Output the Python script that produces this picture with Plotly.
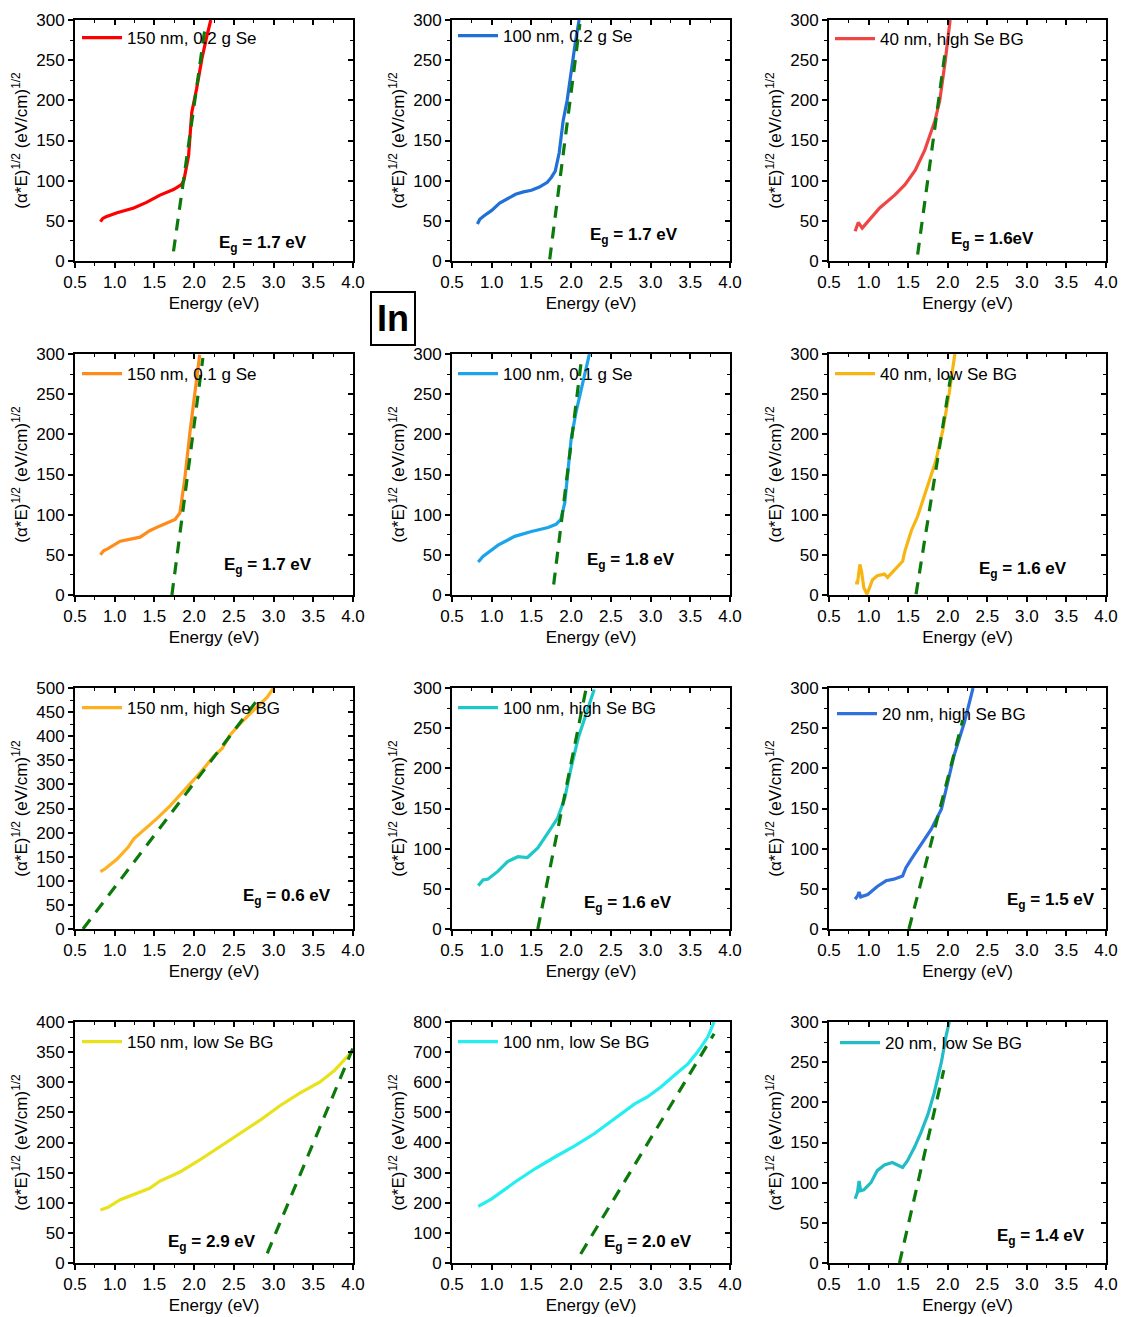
import plotly.graph_objects as go

# ---------------- data ----------------
labels = ["150 nm, 0.2 g Se", "100 nm, 0.2 g Se", "40 nm, high Se BG",
          "150 nm, 0.1 g Se", "100 nm, 0.1 g Se", "40 nm, low Se BG",
          "150 nm, high Se BG", "100 nm, high Se BG", "20 nm, high Se BG",
          "150 nm, low Se BG", "100 nm, low Se BG", "20 nm, low Se BG"]
eg_labels = ["1.7 eV", "1.7 eV", "1.6eV",
             "1.7 eV", "1.8 eV", "1.6 eV",
             "0.6 eV", "1.6 eV", "1.5 eV",
             "2.9 eV", "2.0 eV", "1.4 eV"]
colors = ["#ff0000", "#2070d8", "#f04545",
          "#ff8c1a", "#1ca4ea", "#f7b512",
          "#ffb020", "#1ec8c8", "#2f70dc",
          "#e8e21a", "#24eef0", "#22bcc6"]
y_max = [300, 300, 300, 300, 300, 300, 500, 300, 300, 400, 800, 300]
y_dtick = [50, 50, 50, 50, 50, 50, 50, 50, 50, 50, 100, 50]

e1 = [0.82, 0.85, 0.89, 1.03, 1.24, 1.40, 1.57, 1.74, 1.84, 1.87, 1.93, 1.97, 2.03, 2.10, 2.16, 2.21]
v1 = [49, 53, 55, 60, 66, 73, 82, 89, 95, 100, 131, 185, 214, 253, 280, 300]

e2 = [0.82, 0.85, 0.90, 1.00, 1.10, 1.20, 1.30, 1.40, 1.50, 1.60, 1.70, 1.75, 1.80, 1.85, 1.90, 1.95, 2.00, 2.05, 2.10]
v2 = [46, 52, 56, 63, 72, 78, 83, 86, 88, 92, 98, 104, 112, 135, 175, 200, 238, 270, 300]

e3 = [0.83, 0.87, 0.92, 1.02, 1.14, 1.33, 1.46, 1.59, 1.71, 1.84, 1.90, 1.97, 2.03]
v3 = [37, 48, 41, 53, 66, 82, 95, 113, 138, 175, 200, 250, 300]

e4 = [0.82, 0.86, 0.92, 1.07, 1.32, 1.44, 1.57, 1.76, 1.82, 1.88, 1.95, 2.01, 2.07]
v4 = [50, 55, 58, 67, 72, 80, 86, 94, 102, 143, 205, 255, 299]

e5 = [0.83, 0.89, 1.08, 1.29, 1.50, 1.71, 1.81, 1.87, 1.92, 1.96, 2.00, 2.06, 2.13, 2.23]
v5 = [41, 48, 62, 73, 79, 84, 88, 94, 115, 152, 194, 227, 256, 300]

e6 = [0.83, 0.86, 0.89, 0.91, 0.94, 0.98, 1.02, 1.05, 1.11, 1.20, 1.24, 1.32, 1.43, 1.46, 1.54, 1.62, 1.75, 1.85, 1.94, 2.02, 2.09]
v6 = [15, 15, 38, 30, 9, 1, 11, 19, 24, 26, 22, 30, 42, 55, 80, 98, 136, 167, 206, 252, 300]

e7 = [0.82, 0.88, 1.03, 1.17, 1.24, 1.36, 1.53, 1.70, 1.87, 2.08, 2.24, 2.35, 2.45, 2.58, 2.75, 2.92, 3.00]
v7 = [119, 125, 145, 170, 187, 204, 229, 256, 287, 325, 357, 374, 402, 426, 454, 481, 500]

e8 = [0.83, 0.89, 0.95, 1.08, 1.20, 1.33, 1.45, 1.58, 1.71, 1.83, 1.92, 2.00, 2.09, 2.17, 2.29]
v8 = [54, 61, 62, 72, 84, 90, 89, 101, 120, 138, 163, 201, 238, 263, 298]

e9 = [0.83, 0.86, 0.88, 0.90, 0.99, 1.11, 1.22, 1.32, 1.43, 1.47, 1.54, 1.66, 1.79, 1.92, 2.00, 2.08, 2.21, 2.32]
v9 = [37, 41, 46, 40, 43, 53, 60, 62, 66, 76, 87, 105, 124, 149, 182, 216, 257, 300]

e10 = [0.82, 0.91, 1.07, 1.32, 1.44, 1.57, 1.82, 2.07, 2.33, 2.58, 2.83, 3.08, 3.33, 3.58, 3.77, 3.89, 4.00]
v10 = [88, 92, 105, 118, 124, 136, 151, 171, 194, 216, 237, 261, 282, 300, 320, 337, 353]

e11 = [0.83, 1.00, 1.29, 1.54, 1.79, 2.04, 2.29, 2.55, 2.80, 2.96, 3.13, 3.30, 3.47, 3.59, 3.72, 3.80]
v11 = [188, 213, 268, 312, 351, 388, 429, 479, 528, 551, 584, 623, 661, 700, 750, 800]

e12 = [0.83, 0.86, 0.88, 0.90, 0.94, 1.03, 1.11, 1.20, 1.30, 1.37, 1.43, 1.49, 1.58, 1.66, 1.75, 1.83, 1.92, 1.98, 2.02]
v12 = [80, 88, 102, 90, 91, 100, 115, 122, 125, 122, 119, 127, 144, 162, 185, 212, 250, 283, 300]

energies = [e1, e2, e3, e4, e5, e6, e7, e8, e9, e10, e11, e12]
values = [v1, v2, v3, v4, v5, v6, v7, v8, v9, v10, v11, v12]

# linear (Tauc) fit lines: [start, end]
fit_e = [[1.74, 2.14], [1.73, 2.11], [1.62, 1.97],
         [1.72, 2.11], [1.78, 2.13], [1.60, 2.04],
         [0.60, 2.80], [1.58, 2.19], [1.51, 2.19],
         [2.92, 4.00], [2.12, 3.80], [1.39, 1.95]]
fit_v = [[12, 292], [2, 295], [8, 262],
         [0, 295], [13, 293], [1, 273],
         [0, 476], [0, 300], [0, 260],
         [16, 357], [30, 761], [0, 240]]

# ---------------- layout geometry ----------------
W, H = 1122, 1317


def px_x(p):
    return p / W


def px_y(p):
    return 1 - p / H


col_px = [(75, 353), (452, 730), (829, 1106)]
row_px = [(20, 261), (354, 595), (688, 929), (1022, 1263)]
eg_pos = [(0.676, 0.071), (0.655, 0.104), (0.592, 0.087),
          (0.694, 0.120), (0.644, 0.141), (0.700, 0.104),
          (0.763, 0.133), (0.633, 0.104), (0.801, 0.116),
          (0.493, 0.083), (0.705, 0.083), (0.765, 0.108)]
# legend top-left corner (page px)
leg_px = [(77, 20), (453, 18), (830, 21),
          (77, 356), (453, 356), (830, 356),
          (77, 690), (453, 690), (832, 696),
          (77, 1024), (453, 1024), (835, 1025)]

FONT = "Liberation Sans, Arial, sans-serif"
fig = go.Figure()
layout = dict(width=W, height=H, margin=dict(l=0, r=0, t=0, b=0, autoexpand=False),
              paper_bgcolor="white", plot_bgcolor="white", showlegend=True,
              font=dict(family=FONT, size=17, color="black"))
annotations = []

for i in range(12):
    r, c = divmod(i, 3)
    n = i + 1
    xd = [px_x(col_px[c][0]), px_x(col_px[c][1])]
    yd = [px_y(row_px[r][1]), px_y(row_px[r][0])]
    xa = "x" if n == 1 else f"x{n}"
    ya = "y" if n == 1 else f"y{n}"
    leg = "legend" if n == 1 else f"legend{n}"
    fig.add_trace(go.Scatter(x=energies[i], y=values[i], mode="lines",
                             line=dict(color=colors[i], width=3.2),
                             name=labels[i], xaxis=xa, yaxis=ya, legend=leg))
    fig.add_trace(go.Scatter(x=fit_e[i], y=fit_v[i], mode="lines",
                             line=dict(color="#0b7a0b", width=3.2, dash="12px,9px"),
                             showlegend=False, xaxis=xa, yaxis=ya))
    common = dict(showline=True, linecolor="black", linewidth=2, mirror=True,
                  ticks="outside", ticklen=5, tickwidth=1.5, tickcolor="black",
                  showgrid=False, zeroline=False, automargin=False,
                  ticklabeloverflow="allow",
                  tickfont=dict(family=FONT, size=17, color="black"))
    layout["xaxis" if n == 1 else f"xaxis{n}"] = dict(
        domain=xd, anchor=ya, range=[0.5, 4.0], tick0=0.5, dtick=0.5, tickformat=".1f",
        minor=dict(ticks="outside", ticklen=3, tickwidth=1.2, dtick=0.25, tick0=0.5, tickcolor="black"),
        title=dict(text="Energy (eV)", font=dict(family=FONT, size=17), standoff=6),
        **common)
    layout["yaxis" if n == 1 else f"yaxis{n}"] = dict(
        domain=yd, anchor=xa, range=[0, y_max[i]], tick0=0, dtick=y_dtick[i],
        minor=dict(ticks="outside", ticklen=3, tickwidth=1.2, dtick=y_dtick[i] / 2, tickcolor="black"),
        title=dict(text="(α*E)<sup>1/2</sup> (eV/cm)<sup>1/2</sup>",
                   font=dict(family=FONT, size=17), standoff=4),
        **common)
    # overlay axes for inward ticks on top / right
    m = n + 12
    layout[f"xaxis{m}"] = dict(overlaying=xa, anchor=ya, side="top", range=[0.5, 4.0],
                               tick0=0.5, dtick=0.5, ticks="inside", ticklen=5, tickwidth=1.5,
                               tickcolor="black", showticklabels=False, showline=False,
                               showgrid=False, zeroline=False, automargin=False,
                               minor=dict(ticks="inside", ticklen=3, tickwidth=1.2, dtick=0.25,
                                          tick0=0.5, tickcolor="black"))
    layout[f"yaxis{m}"] = dict(overlaying=ya, anchor=xa, side="right", range=[0, y_max[i]],
                               tick0=0, dtick=y_dtick[i], ticks="inside", ticklen=5, tickwidth=1.5,
                               tickcolor="black", showticklabels=False, showline=False,
                               showgrid=False, zeroline=False, automargin=False,
                               minor=dict(ticks="inside", ticklen=3, tickwidth=1.2,
                                          dtick=y_dtick[i] / 2, tickcolor="black"))
    fig.add_trace(go.Scatter(x=[None], y=[None], xaxis=f"x{m}", yaxis=ya,
                             showlegend=False, hoverinfo="skip"))
    fig.add_trace(go.Scatter(x=[None], y=[None], xaxis=xa, yaxis=f"y{m}",
                             showlegend=False, hoverinfo="skip"))
    # legend
    layout[leg] = dict(x=px_x(leg_px[i][0]), y=px_y(leg_px[i][1]), xanchor="left", yanchor="top",
                       bgcolor="rgba(0,0,0,0)", borderwidth=0, itemwidth=40,
                       font=dict(family=FONT, size=17, color="black"),
                       tracegroupgap=0)
    # Eg label
    annotations.append(dict(xref=f"{xa} domain", yref=f"{ya} domain",
                            x=eg_pos[i][0], y=eg_pos[i][1], showarrow=False,
                            text=f"<b>E<sub>g</sub> = {eg_labels[i]}</b>",
                            font=dict(family=FONT, size=17, color="black"),
                            xanchor="center", yanchor="middle"))

annotations.append(dict(xref="paper", yref="paper", x=px_x(393), y=px_y(318),
                        text="<b>In</b>", showarrow=False,
                        font=dict(family=FONT, size=36, color="black"),
                        bordercolor="black", borderwidth=2, borderpad=5,
                        xanchor="center", yanchor="middle"))
layout["annotations"] = annotations
fig.update_layout(**layout)
fig.write_html("out.html", config={"displayModeBar": False},
               post_script="document.body.style.margin='0';document.body.style.overflow='hidden';")
